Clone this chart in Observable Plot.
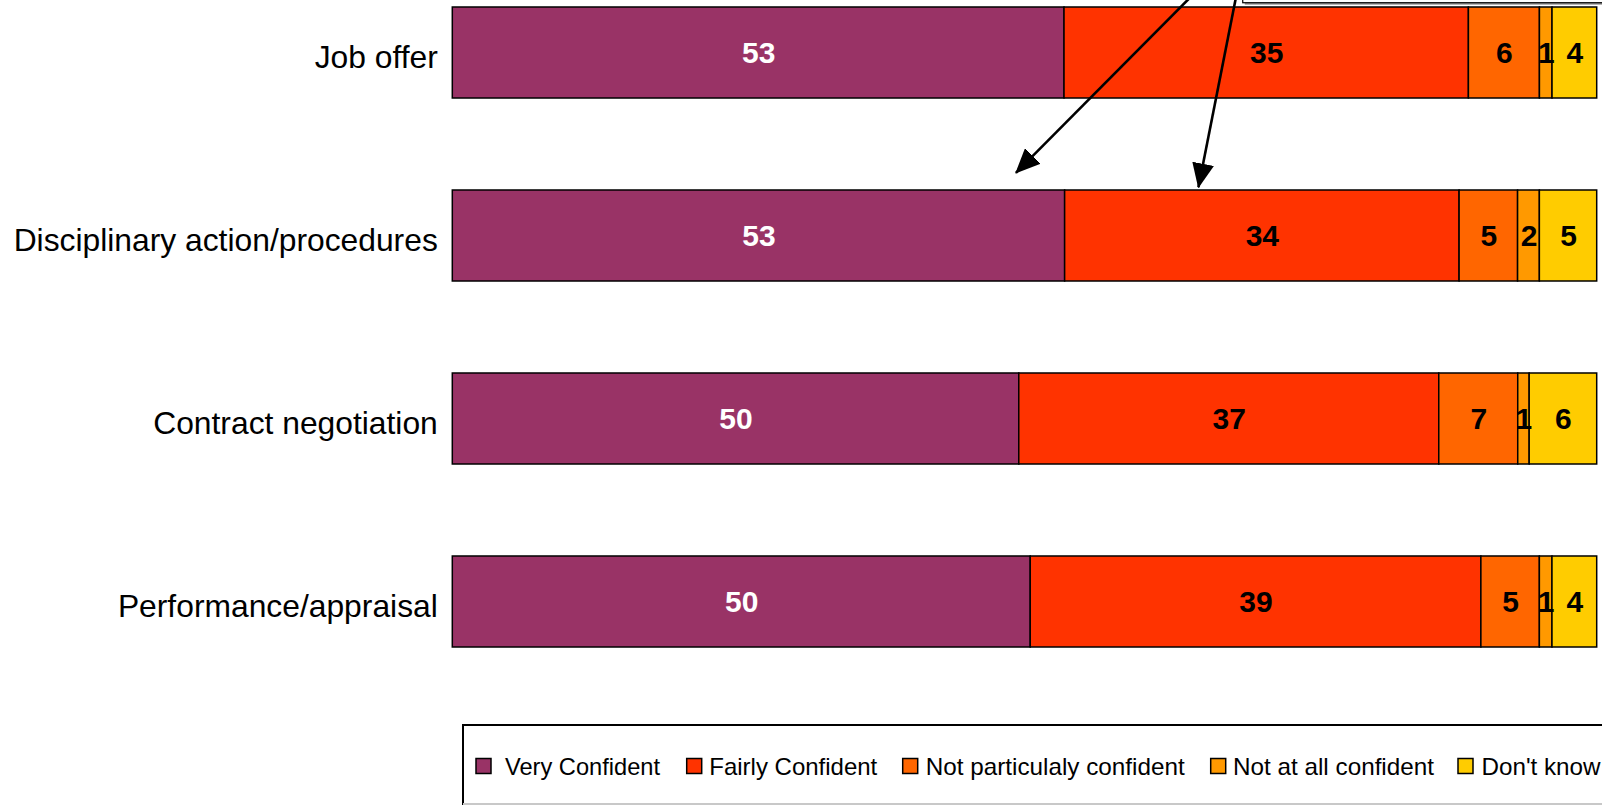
<!DOCTYPE html>
<html>
<head>
<meta charset="utf-8">
<script src="https://cdn.jsdelivr.net/npm/d3@7"></script>
<script src="https://cdn.jsdelivr.net/npm/@observablehq/plot@0.6"></script>
<style>
  html, body { margin: 0; padding: 0; background: #fff; overflow: hidden; }
  #wrap { position: relative; width: 1602px; height: 806px; overflow: hidden; }
  #chart { position: absolute; left: 0; top: 0; }
  #legend { position: absolute; left: 462px; top: 724px; }
</style>
</head>
<body>
<div id="wrap">
  <div id="chart"></div>
  <div id="legend"></div>
</div>
<script>
// ---- Data ----
const categories = ["Job offer", "Disciplinary action/procedures", "Contract negotiation", "Performance/appraisal"];
const series = ["Very Confident", "Fairly Confident", "Not particulaly confident", "Not at all confident", "Don't know"];
const colors = ["#993366", "#FF3300", "#FF6600", "#FF9900", "#FFCC00"];

// percentage shares per category
const veryConfident   = [53.4, 53.4, 49.5, 50.4];
const fairlyConfident = [35.3, 34.4, 36.7, 39.3];
const notParticularly = [6.2, 5.1, 6.9, 5.1];
const notAtAll        = [1.1, 1.9, 1.0, 1.1];
const dontKnow        = [3.9, 5.0, 5.9, 3.9];

// label text shown on each segment
const labelsVery    = [53, 53, 50, 50];
const labelsFairly  = [35, 34, 37, 39];
const labelsNotPart = [6, 5, 7, 5];
const labelsNotAll  = [1, 2, 1, 1];
const labelsDK      = [4, 5, 6, 4];

// annotation arrows (x in percent of bar, y in row units from first row centre)
const arrowX1 = [65.1, 68.6];
const arrowY1 = [-0.34, -0.34];
const arrowX2 = [49.25, 65.2];
const arrowY2 = [0.658, 0.737];
// annotation box (cropped at top-right)
const boxLeftX = 69.07;
const boxBottomY = -0.272;

// ---- Table ----
const valueSets = [veryConfident, fairlyConfident, notParticularly, notAtAll, dontKnow];
const labelSets = [labelsVery, labelsFairly, labelsNotPart, labelsNotAll, labelsDK];
const rows = categories.flatMap((c, i) => series.map((s, j) => ({
  category: c, series: s, value: valueSets[j][i], label: labelSets[j][i]
})));

const stackOpts = {x: "value", y: "category", z: "series", offset: "normalize", order: series};
const font = "'Liberation Sans', Arial, sans-serif";

const plot = Plot.plot({
  width: 1602,
  height: 700,
  marginLeft: 452.3,
  marginRight: 5.3,
  marginTop: 0,
  marginBottom: 46,
  x: {domain: [0, 1], axis: null},
  y: {domain: categories, paddingInner: 0.5027, paddingOuter: 0.03825, round: false, axis: null},
  color: {domain: series, range: colors},
  style: {fontFamily: font, fontSize: "31.8px", color: "#000", background: "#fff"},
  marks: [
    Plot.axisY({tickSize: 0, tickPadding: 15, dy: 5, label: null, fontSize: 31.8}),
    Plot.barX(rows, Plot.stackX({...stackOpts, fill: "series", stroke: "#000", strokeWidth: 1.5})),
    Plot.textX(rows, Plot.stackX({...stackOpts, text: d => d.series === series[0] ? String(d.label) : "",
      fill: "white", fontWeight: "bold", fontSize: 30, fontFamily: font})),
    Plot.textX(rows, Plot.stackX({...stackOpts, text: d => d.series !== series[0] ? String(d.label) : "",
      fill: "black", fontWeight: "bold", fontSize: 30, fontFamily: font}))
  ]
});
document.getElementById("chart").appendChild(plot);

// ---- Annotation overlay, positioned through the plot's own scales ----
const xs = plot.scale("x");
const ys = plot.scale("y");
const row0 = ys.apply(categories[0]) + ys.bandwidth / 2;
const rowY = r => row0 + r * ys.step;
const px = p => xs.apply(p / 100);

const svg = d3.select(plot);
const defs = svg.append("defs");
defs.append("marker")
  .attr("id", "arrowhead")
  .attr("markerUnits", "userSpaceOnUse")
  .attr("viewBox", "0 0 25 22")
  .attr("markerWidth", 25).attr("markerHeight", 22)
  .attr("refX", 24).attr("refY", 11)
  .attr("orient", "auto")
  .append("path").attr("d", "M0,0 L25,11 L0,22 Z").attr("fill", "#000");

const ann = svg.append("g");
const bx = px(boxLeftX), by = rowY(boxBottomY);
ann.append("rect").attr("x", bx + 2).attr("y", by - 200 + 2).attr("width", 1000).attr("height", 200).attr("fill", "#999");
ann.append("rect").attr("x", bx).attr("y", by - 200).attr("width", 1000).attr("height", 200)
  .attr("fill", "#fff").attr("stroke", "#000").attr("stroke-width", 1.2);

arrowX1.forEach((_, i) => {
  ann.append("line")
    .attr("x1", px(arrowX1[i])).attr("y1", rowY(arrowY1[i]))
    .attr("x2", px(arrowX2[i])).attr("y2", rowY(arrowY2[i]))
    .attr("stroke", "#000").attr("stroke-width", 2.6)
    .attr("marker-end", "url(#arrowhead)");
});

// ---- Legend ----
const legendSwatchX = [14, 224.7, 440.7, 748.7, 996];   // offsets inside legend box
const legendTextX   = [43, 247.3, 463.7, 771, 1019.5];
const legendTextW   = [155, 168, 259, 201, 119];
const lg = d3.select("#legend").append("svg").attr("width", 1200).attr("height", 90);
lg.append("rect").attr("x", 1).attr("y", 1).attr("width", 1400).attr("height", 79)
  .attr("fill", "#fff").attr("stroke", "#000").attr("stroke-width", 2);
lg.append("line").attr("x1", 1).attr("x2", 1400).attr("y1", 80).attr("y2", 80).attr("stroke", "#c8c8c8").attr("stroke-width", 2);
series.forEach((s, i) => {
  lg.append("rect").attr("x", legendSwatchX[i]).attr("y", 34.5).attr("width", 15).attr("height", 15)
    .attr("fill", colors[i]).attr("stroke", "#000").attr("stroke-width", 1.5);
  lg.append("text").attr("x", legendTextX[i]).attr("y", 50.5)
    .attr("font-family", "'Liberation Sans Narrow', 'Liberation Sans', Arial, sans-serif")
    .attr("font-size", 24).attr("fill", "#000")
    .attr("textLength", legendTextW[i]).attr("lengthAdjust", "spacingAndGlyphs")
    .text(s);
});
</script>
</body>
</html>
